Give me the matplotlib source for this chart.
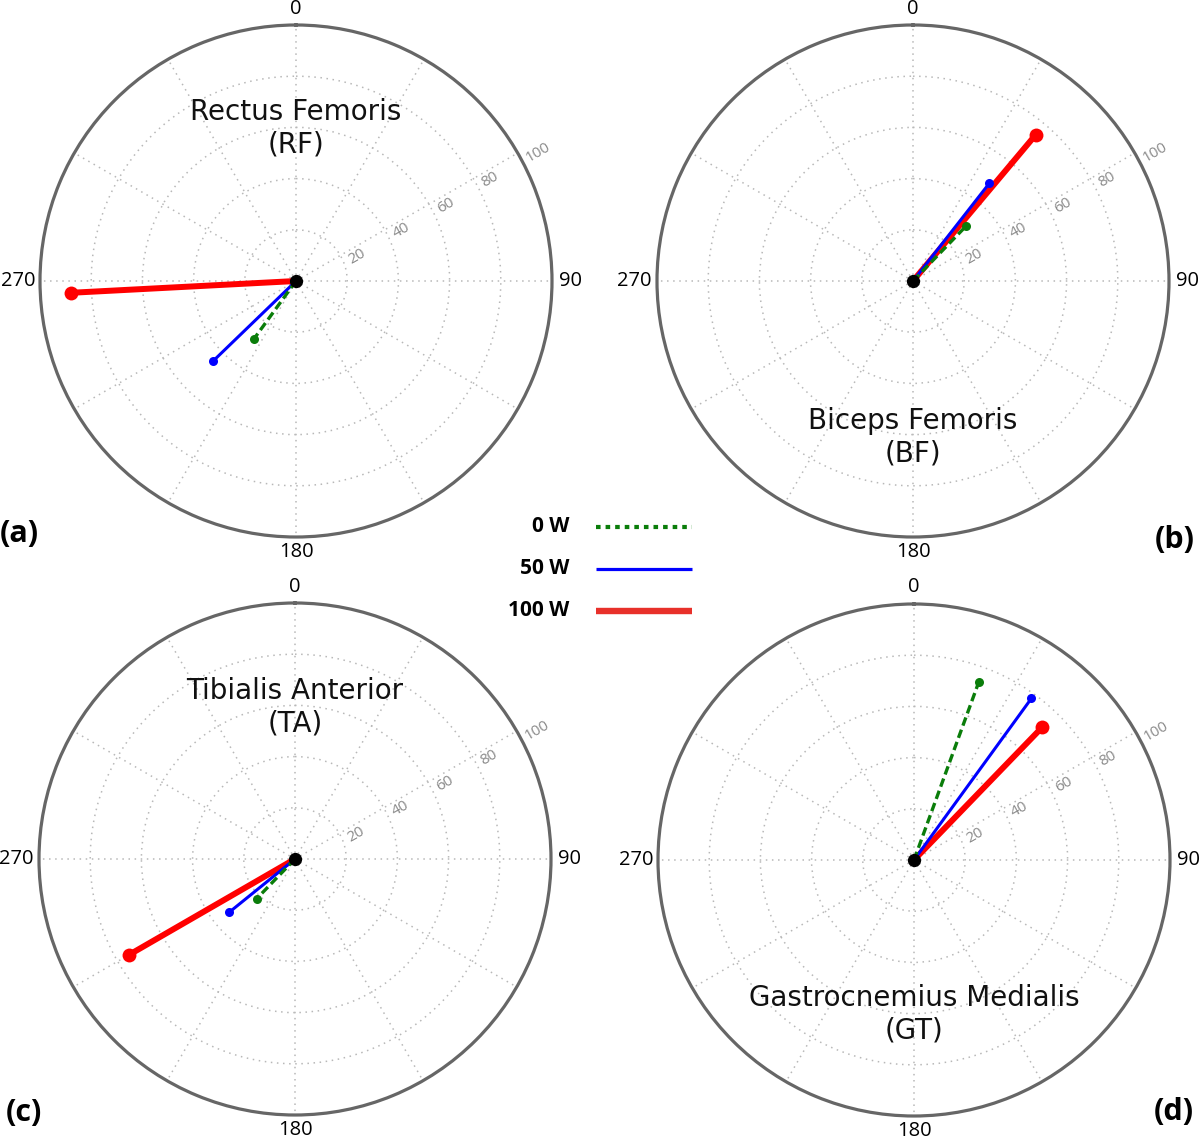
import numpy as np
import matplotlib
matplotlib.use("Agg")
import matplotlib.pyplot as plt
import matplotlib.transforms as mtransforms

# ---------------- data ----------------
muscles = ["Rectus Femoris\n(RF)", "Biceps Femoris\n(BF)",
           "Tibialis Anterior\n(TA)", "Gastrocnemius Medialis\n(GT)"]
panel_letters = ["(a)", "(b)", "(c)", "(d)"]
power_labels = ["0 W", "50 W", "100 W"]

# phase angle (deg, clockwise from 0 at top) and magnitude per panel a,b,c,d
angle_0W = [216, 44, 224, 20]
amp_0W = [28, 30, 21.5, 74]
angle_50W = [226, 38, 231, 36]
amp_50W = [45, 48.5, 33, 78]
angle_100W = [267, 40, 240, 44]
amp_100W = [88, 74.5, 75, 72]

r_ticks = [20, 40, 60, 80, 100]
r_tick_labels = ["20", "40", "60", "80", "100"]
theta_ticks = list(range(0, 360, 30))
theta_label_ticks = [0, 90, 180, 270]
theta_labels = ["0", "90", "180", "270"]

# ---------------- styling ----------------
W, H = 1200, 1139
fig = plt.figure(figsize=(W / 100, H / 100), dpi=100)
R = 256
centers = [(296, 281), (913, 281), (295, 859), (914, 860)]
title_y = [128, 437, 707, 1014]
letter_pos = [(19, 534), (1175, 540), (24, 1113), (1174, 1112)]

# pixel offsets and alignment of the 0/90/180/270 labels from the outer ring
theta_lab_fmt = {
    0: dict(dx=0, dy=16.5, ha="center", va="center"),
    90: dict(dx=7, dy=0, ha="left", va="center"),
    180: dict(dx=0, dy=-15, ha="center", va="center"),
    270: dict(dx=-5, dy=0, ha="right", va="center"),
}

series = [
    dict(ang=angle_100W, amp=amp_100W, color="#ff0000", lw=4.3, ms=10, ls="-"),
    dict(ang=angle_50W, amp=amp_50W, color="#0000ff", lw=2.2, ms=6.5, ls="-"),
    dict(ang=angle_0W, amp=amp_0W, color="#0a7d0a", lw=2.4, ms=6.5, ls="--"),
]

for i, (cx, cy) in enumerate(centers):
    ax = fig.add_axes([(cx - R) / W, 1 - (cy + R) / H, 2 * R / W, 2 * R / H],
                      projection="polar")
    ax.set_theta_zero_location("N")
    ax.set_theta_direction(-1)
    ax.set_ylim(0, 100)
    ax.set_rticks(r_ticks)
    ax.set_yticklabels([])
    ax.set_thetagrids(theta_ticks, [""] * len(theta_ticks))
    ax.grid(True, color="#b8b8b8", linestyle=(0, (1, 3)), linewidth=1.1)
    ax.spines["polar"].set_color("#666666")
    ax.spines["polar"].set_linewidth(2.3)

    for s in series:
        th = np.deg2rad(s["ang"][i])
        r = s["amp"][i]
        line, = ax.plot([th, th], [0, r], color=s["color"], lw=s["lw"],
                        linestyle=s["ls"], solid_capstyle="butt", zorder=3)
        if s["ls"] == "--":
            line.set_dashes((2.6, 1.3))
        ax.plot([th], [r], "o", color=s["color"], ms=s["ms"], zorder=4,
                markeredgewidth=0)
    ax.plot([0], [0], "o", color="black", ms=8.5, zorder=6, clip_on=False)

    # angle labels
    for t, tl in zip(theta_label_ticks, theta_labels):
        f = theta_lab_fmt[t]
        off = mtransforms.ScaledTranslation(f["dx"] / 100, f["dy"] / 100,
                                            fig.dpi_scale_trans)
        ax.text(np.deg2rad(t), 100, tl, ha=f["ha"], va=f["va"], fontsize=14.5,
                fontfamily="Open Sans", color="black",
                transform=ax.transData + off, clip_on=False)

    # radial labels along 60 degrees
    th60 = np.deg2rad(60)
    off = mtransforms.ScaledTranslation(6 / 72 * 0.866 * 0.72, 6 / 72 * 0.5 * 0.72 - 0.02,
                                        fig.dpi_scale_trans)
    for rv, rl in zip(r_ticks, r_tick_labels):
        ax.text(th60, rv, rl, rotation=30, rotation_mode="anchor",
                ha="left", va="top", fontsize=11, color="#8a8a8a",
                fontfamily="Open Sans", transform=ax.transData + off, zorder=5)

# overlay for titles, panel letters and legend
ov = fig.add_axes([0, 0, 1, 1], facecolor="none")
ov.set_xlim(0, W)
ov.set_ylim(H, 0)
ov.axis("off")

for i, (cx, cy) in enumerate(centers):
    ov.text(cx, title_y[i], muscles[i], ha="center", va="center",
            fontsize=20, fontfamily="DejaVu Sans", linespacing=1.2,
            color="#111111")
    lx, ly = letter_pos[i]
    ov.text(lx, ly, panel_letters[i], ha="center", va="center",
            fontsize=22, fontweight="bold", fontfamily="Open Sans")

leg_y = [527, 569, 611]
leg_style = [
    dict(color="#0a7d0a", lw=3.0, dashes=(1.1, 1.2)),
    dict(color="#0000ff", lw=2.3, dashes=None),
    dict(color="#e8302a", lw=4.6, dashes=None),
]
for lab, y, st in zip(power_labels, leg_y, leg_style):
    ov.text(569, y, lab, ha="right", va="center", fontsize=15,
            fontweight="bold", fontfamily="Open Sans")
    ln, = ov.plot([596, 692], [y, y], color=st["color"], lw=st["lw"],
                  solid_capstyle="butt", dash_capstyle="butt")
    if st["dashes"]:
        ln.set_dashes(st["dashes"])

fig.savefig("out.png", dpi=100)
